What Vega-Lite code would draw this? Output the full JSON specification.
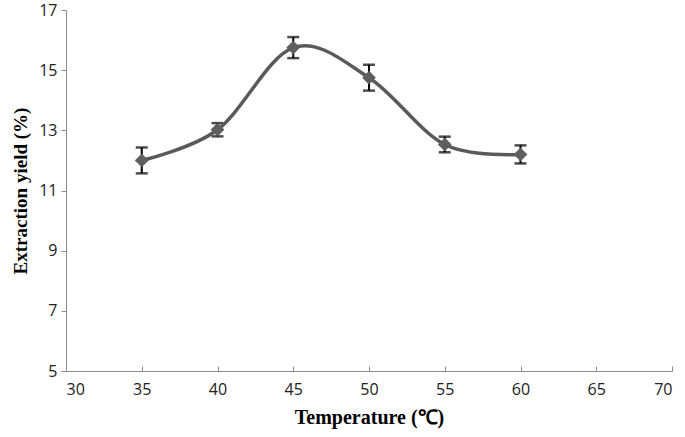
{
  "$schema": "https://vega.github.io/schema/vega-lite/v6.json",
  "autosize": "none",
  "width": 606,
  "height": 361,
  "padding": {"left": 66, "top": 10, "right": 13, "bottom": 66},
  "background": "white",
  "config": {"view": {"stroke": null}},
  "data": {"values": [
    {"temp": 35, "yield": 12.0, "err": 0.43},
    {"temp": 40, "yield": 13.02, "err": 0.22},
    {"temp": 45, "yield": 15.75, "err": 0.35},
    {"temp": 50, "yield": 14.75, "err": 0.43},
    {"temp": 55, "yield": 12.53, "err": 0.26},
    {"temp": 60, "yield": 12.2, "err": 0.3}
  ]},
  "encoding": {
    "x": {"field": "temp", "type": "quantitative",
      "scale": {"domain": [30, 70], "nice": false, "zero": false},
      "axis": {"values": [30,35,40,45,50,55,60,65,70], "title": "Temperature (℃)", "grid": false,
        "domainColor": "#8c8c8c", "tickColor": "#8c8c8c", "tickSize": -5, "labelPadding": 15,
        "labelFont": "Open Sans", "labelFontSize": 16, "labelColor": "#222",
        "titleFont": "Liberation Serif", "titleFontSize": 20, "titleFontWeight": "bold", "titleColor": "#000", "titlePadding": 10}},
    "y": {"field": "yield", "type": "quantitative",
      "scale": {"domain": [5, 17], "nice": false, "zero": false},
      "axis": {"values": [5,7,9,11,13,15,17], "title": "Extraction yield (%)", "grid": false,
        "domainColor": "#8c8c8c", "tickColor": "#8c8c8c", "tickSize": 5, "labelPadding": 4,
        "labelFont": "Open Sans", "labelFontSize": 16, "labelColor": "#222",
        "titleFont": "Liberation Serif", "titleFontSize": 19, "titleFontWeight": "bold", "titleColor": "#000", "titlePadding": 8}}
  },
  "layer": [
    {"mark": {"type": "errorbar", "ticks": {"size": 12, "thickness": 2.5, "color": "#000"}, "rule": {"strokeWidth": 2, "color": "#000"}},
     "encoding": {"yError": {"field": "err"}}},
    {"mark": {"type": "line", "interpolate": "cardinal", "color": "#5a5a5a", "strokeWidth": 3.5}},
    {"mark": {"type": "point", "shape": "diamond", "filled": true, "color": "#5f5f5f", "size": 190, "opacity": 1}}
  ]
}
